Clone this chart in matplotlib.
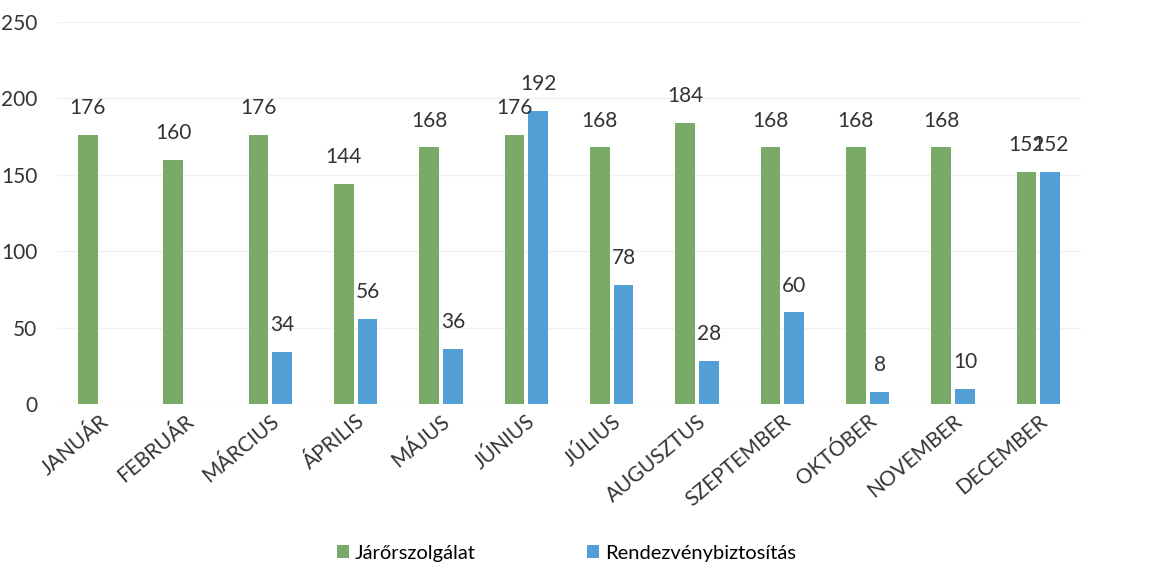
import matplotlib.pyplot as plt
import numpy as np

plt.rcParams["font.family"] = ["Lato", "DejaVu Sans"]

months = ["JANUÁR", "FEBRUÁR", "MÁRCIUS", "ÁPRILIS", "MÁJUS", "JÚNIUS",
          "JÚLIUS", "AUGUSZTUS", "SZEPTEMBER", "OKTÓBER", "NOVEMBER", "DECEMBER"]
jaror = [176, 160, 176, 144, 168, 176, 168, 184, 168, 168, 168, 152]
rendezveny = [None, None, 34, 56, 36, 192, 78, 28, 60, 8, 10, 152]

green = "#79aa68"
blue = "#529fd6"

fig = plt.figure(figsize=(11.63, 5.74), dpi=100)
ax = fig.add_axes([0.049, 0.296, 0.8805, 0.6657])

x = np.arange(len(months))
off = 0.14
w = 0.23
ax.bar(x - off, jaror, width=w, color=green, label="Járőrszolgálat")
r_vals = [v if v is not None else 0 for v in rendezveny]
ax.bar(x + off, r_vals, width=w, color=blue, label="Rendezvénybiztosítás")

for xi, v in zip(x, jaror):
    ax.text(xi - off, v + 11, str(v), ha="center", va="bottom", fontsize=15, color="#333333")
for xi, v in zip(x, rendezveny):
    if v is not None:
        ax.text(xi + off, v + 11, str(v), ha="center", va="bottom", fontsize=15, color="#333333")

ax.set_xlim(-0.5, len(months) - 0.5)
ax.set_ylim(0, 250)
ax.set_yticks(range(0, 251, 50))
ax.yaxis.grid(True, color="#f0f0f0", linewidth=1)
ax.set_axisbelow(True)
for s in ax.spines.values():
    s.set_visible(False)
ax.tick_params(axis="both", length=0, labelsize=15, colors="#333333")
ax.tick_params(axis="y", pad=14)
ax.tick_params(axis="x", pad=5)
ax.set_xticks(x)
ax.set_xticklabels(months, rotation=40, ha="right", rotation_mode="anchor", fontsize=15)

fig.legend(loc="lower center", ncol=2, frameon=False, fontsize=14.5,
           bbox_to_anchor=(0.487, -0.01), handlelength=0.6, handleheight=0.6,
           handletextpad=0.3, columnspacing=5.5)

fig.savefig("out.png", dpi=100)
